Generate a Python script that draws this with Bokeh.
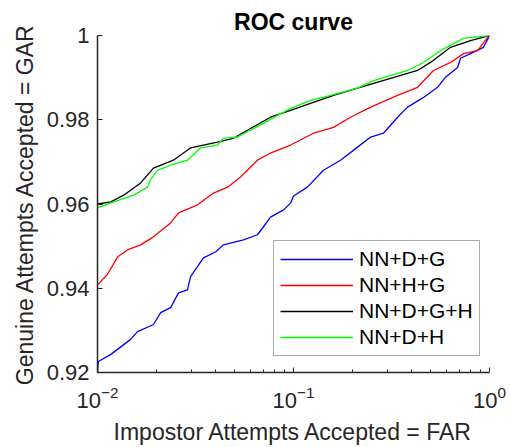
from bokeh.plotting import figure
from bokeh.models import Range1d, FixedTicker, Legend, LegendItem, LogTickFormatter
from bokeh.embed import file_html
from bokeh.resources import INLINE

labels = ["NN+D+G", "NN+H+G", "NN+D+G+H", "NN+D+H"]
colors = ["#0000ff", "#ff0000", "#000000", "#00ff00"]

far_dg = [0.0100, 0.0101, 0.0117, 0.0147, 0.0160, 0.0193, 0.0210, 0.0236, 0.0259, 0.0288,
          0.0298, 0.0347, 0.0400, 0.0439, 0.0556, 0.0655, 0.0703, 0.0763, 0.0890, 0.0966,
          0.1000, 0.1178, 0.1422, 0.1737, 0.2123, 0.2474, 0.2877, 0.3396, 0.3819, 0.4606,
          0.5430, 0.5966, 0.6871, 0.7115, 0.8000, 0.9317, 0.9886, 1.0]
gar_dg = [0.9200, 0.9226, 0.9243, 0.9278, 0.9297, 0.9314, 0.9342, 0.9354, 0.9389, 0.9396,
          0.9427, 0.9472, 0.9486, 0.9503, 0.9515, 0.9527, 0.9546, 0.9569, 0.9586, 0.9602,
          0.9619, 0.9640, 0.9680, 0.9704, 0.9735, 0.9759, 0.9768, 0.9806, 0.9830, 0.9853,
          0.9877, 0.9901, 0.9924, 0.9946, 0.9957, 0.9972, 0.9995, 1.0]

far_hg = [0.0100, 0.0112, 0.0127, 0.0142, 0.0166, 0.0193, 0.0236, 0.0259, 0.0324, 0.0391,
          0.0461, 0.0537, 0.0655, 0.0763, 0.0966, 0.1265, 0.1600, 0.1954, 0.2474, 0.3396,
          0.4295, 0.5180, 0.6327, 0.7369, 0.8689, 0.9772, 1.0]
gar_hg = [0.9408, 0.9432, 0.9475, 0.9491, 0.9503, 0.9522, 0.9555, 0.9579, 0.9598, 0.9626,
          0.9640, 0.9664, 0.9704, 0.9721, 0.9740, 0.9768, 0.9782, 0.9806, 0.9830, 0.9858,
          0.9877, 0.9917, 0.9936, 0.9957, 0.9964, 0.9995, 1.0]

far_dgh = [0.0100, 0.0117, 0.0136, 0.0166, 0.0193, 0.0244, 0.0298, 0.0409, 0.0494, 0.0583,
           0.0763, 0.0966, 0.1221, 0.1600, 0.2123, 0.3126, 0.4295, 0.5180, 0.6327, 0.8000, 1.0]
gar_dgh = [0.9600, 0.9605, 0.9621, 0.9650, 0.9685, 0.9704, 0.9733, 0.9747, 0.9756, 0.9775,
           0.9806, 0.9822, 0.9839, 0.9858, 0.9875, 0.9898, 0.9917, 0.9941, 0.9972, 0.9988, 1.0]

far_dh = [0.0100, 0.0121, 0.0153, 0.0180, 0.0186, 0.0202, 0.0236, 0.0288, 0.0335, 0.0409,
          0.0439, 0.0518, 0.0703, 0.0966, 0.1221, 0.1545, 0.2123, 0.2561, 0.3819, 0.4606,
          0.5623, 0.7369, 1.0]
gar_dh = [0.9591, 0.9605, 0.9621, 0.9640, 0.9657, 0.9680, 0.9692, 0.9704, 0.9733, 0.9740,
          0.9756, 0.9759, 0.9792, 0.9827, 0.9846, 0.9858, 0.9875, 0.9893, 0.9917, 0.9936,
          0.9964, 0.9993, 1.0]

y_ticks = [0.92, 0.94, 0.96, 0.98, 1.0]
x_ticks = [0.01, 0.1, 1.0]
x_minor = [0.02, 0.03, 0.04, 0.05, 0.06, 0.07, 0.08, 0.09,
           0.2, 0.3, 0.4, 0.5, 0.6, 0.7, 0.8, 0.9]

FONT = "Liberation Sans"
TXT = "#262626"

p = figure(width=510, height=447, x_axis_type="log",
           x_range=Range1d(0.01, 1.0), y_range=Range1d(0.92, 1.0),
           output_backend="svg", toolbar_location=None,
           min_border_left=97, min_border_right=21, min_border_top=35, min_border_bottom=74)

p.title.text = "ROC curve"
p.title.text_font = FONT
p.title.text_font_size = "23px"
p.title.text_font_style = "bold"
p.title.align = "center"
p.title.text_color = "#000000"
p.title.standoff = 2

p.outline_line_color = None
p.xgrid.grid_line_color = None
p.ygrid.grid_line_color = None
p.background_fill_color = "white"
p.border_fill_color = "white"

for ax in (p.xaxis[0], p.yaxis[0]):
    ax.axis_line_color = TXT
    ax.axis_line_width = 1.5
    ax.major_tick_line_color = TXT
    ax.minor_tick_line_color = TXT
    ax.major_tick_in = 5
    ax.major_tick_out = 0
    ax.minor_tick_in = 3
    ax.minor_tick_out = 0
    ax.major_label_text_font = FONT
    ax.major_label_text_font_size = "22px"
    ax.major_label_text_color = TXT
    ax.axis_label_text_font = FONT
    ax.axis_label_text_font_size = "23px"
    ax.axis_label_text_font_style = "normal"
    ax.axis_label_text_color = TXT

p.xaxis[0].ticker = FixedTicker(ticks=x_ticks, minor_ticks=x_minor)
p.xaxis[0].formatter = LogTickFormatter()
p.xaxis[0].major_label_standoff = 13
p.xaxis[0].axis_label = "Impostor Attempts Accepted = FAR"
p.xaxis[0].axis_label_standoff = 8

p.yaxis[0].ticker = FixedTicker(ticks=y_ticks)
p.yaxis[0].minor_tick_line_color = None
p.yaxis[0].major_label_overrides = {0.92: "0.92", 0.94: "0.94", 0.96: "0.96", 0.98: "0.98", 1.0: "1"}
p.yaxis[0].major_label_standoff = 8
p.yaxis[0].axis_label = "Genuine Attempts Accepted = GAR"
p.yaxis[0].axis_label_standoff = 6

series = [(far_dg, gar_dg), (far_hg, gar_hg), (far_dgh, gar_dgh), (far_dh, gar_dh)]
items = []
for (xs, ys), lab, col in zip(series, labels, colors):
    r = p.line(xs, ys, line_color=col, line_width=1.3)
    items.append(LegendItem(label=lab, renderers=[r]))

legend = Legend(items=items, location=(176, 16))
legend.label_text_font = FONT
legend.label_text_font_size = "21px"
legend.label_text_color = "#000000"
legend.border_line_color = "#555555"
legend.border_line_width = 1.5
legend.background_fill_color = "white"
legend.background_fill_alpha = 1.0
legend.padding = 6
legend.margin = 0
legend.spacing = 2
legend.label_height = 24
legend.glyph_height = 24
legend.glyph_width = 73
legend.label_standoff = 6
p.add_layout(legend, "center")

open("out.html", "w").write(file_html(p, INLINE))
